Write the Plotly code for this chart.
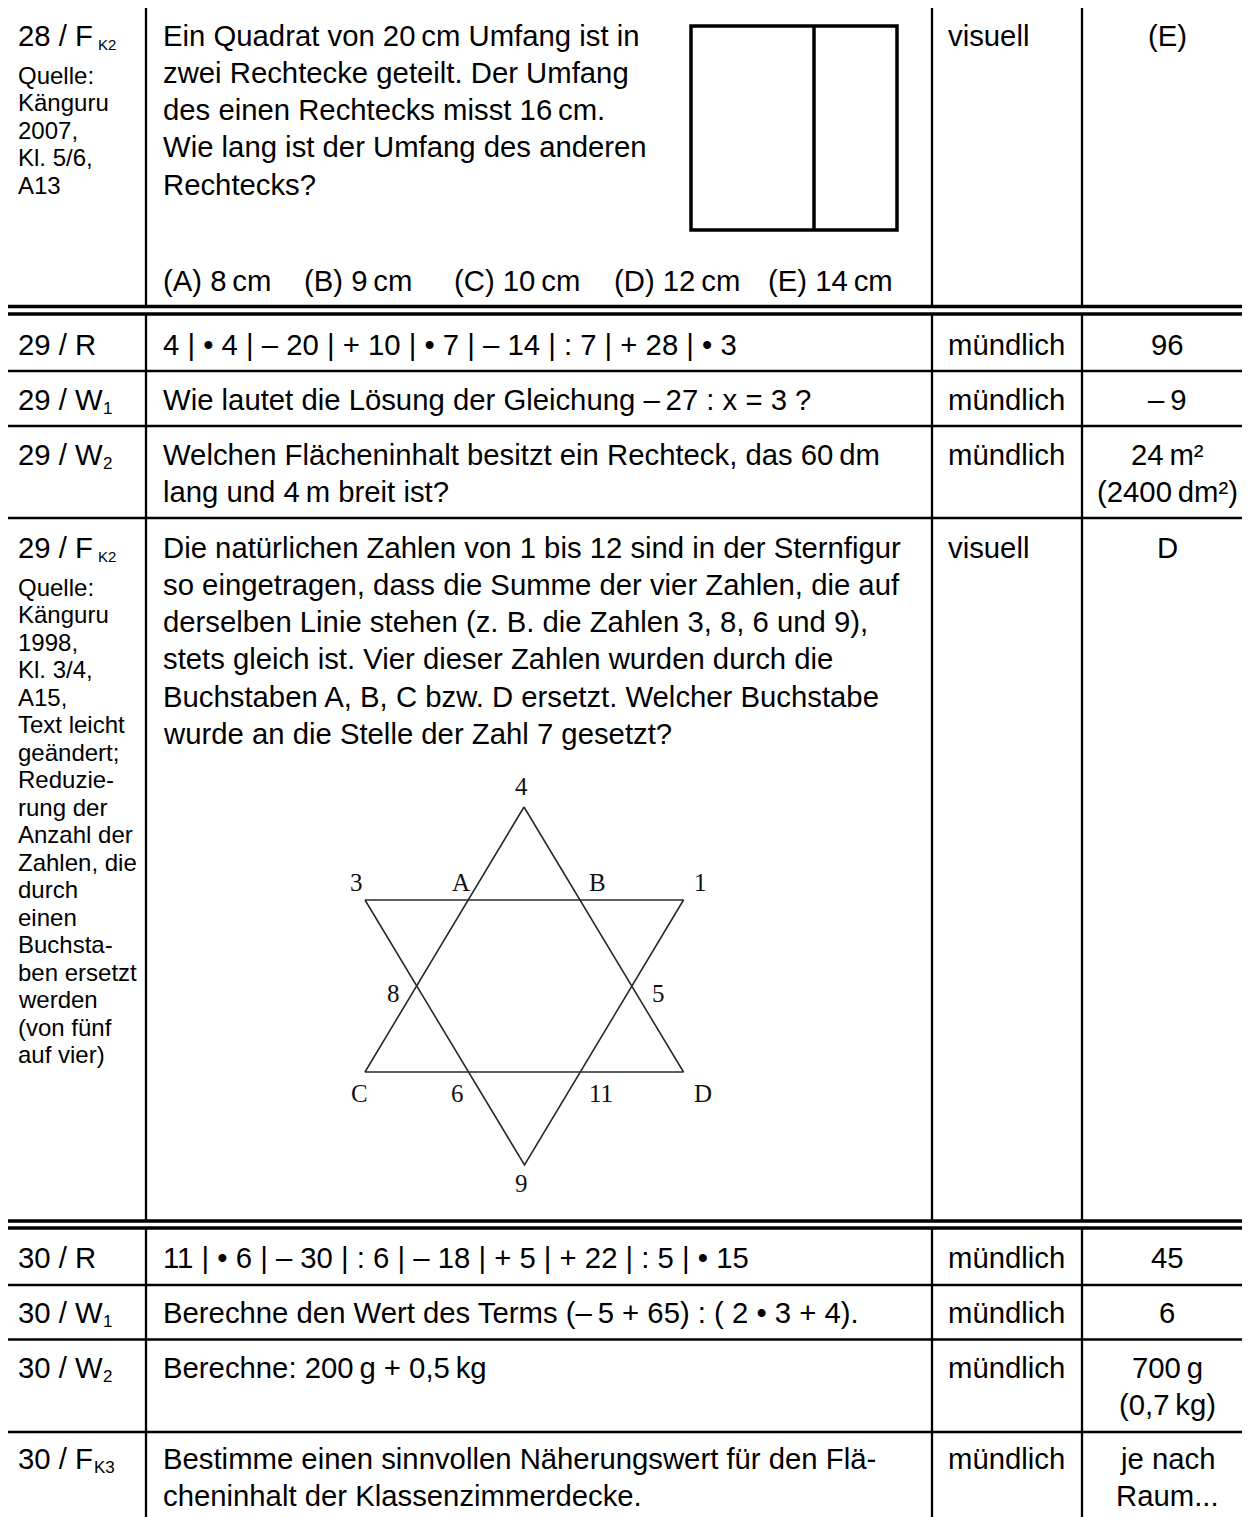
import plotly.graph_objects as go

SANS = "Liberation Sans, Arial, sans-serif"
SERIF = "Liberation Serif, DejaVu Serif, serif"

### TABLE CONTENT ###
row_ids = ["28 / F", "29 / R", "29 / W", "29 / W", "29 / F",
           "30 / R", "30 / W", "30 / W", "30 / F"]
row_subs = ["K2", "", "1", "2", "K2", "", "1", "2", "K3"]

task_lines = [
    ["Ein Quadrat von 20\u2009cm Umfang ist in",
     "zwei Rechtecke geteilt. Der Umfang",
     "des einen Rechtecks misst 16\u2009cm.",
     "Wie lang ist der Umfang des anderen",
     "Rechtecks?"],
    ["4 | \u2022 4 | \u2013 20 | + 10 | \u2022 7 | \u2013 14 | : 7 | + 28 | \u2022 3"],
    ["Wie lautet die L\u00f6sung der Gleichung \u2013\u200927 : x = 3 ?"],
    ["Welchen Fl\u00e4cheninhalt besitzt ein Rechteck, das 60\u2009dm",
     "lang und 4\u2009m breit ist?"],
    ["Die nat\u00fcrlichen Zahlen von 1 bis 12 sind in der Sternfigur",
     "so eingetragen, dass die Summe der vier Zahlen, die auf",
     "derselben Linie stehen (z. B. die Zahlen 3, 8, 6 und 9),",
     "stets gleich ist. Vier dieser Zahlen wurden durch die",
     "Buchstaben A, B, C bzw. D ersetzt. Welcher Buchstabe",
     "wurde an die Stelle der Zahl 7 gesetzt?"],
    ["11 | \u2022 6 | \u2013 30 | : 6 | \u2013 18 | + 5 | + 22 | : 5 | \u2022 15"],
    ["Berechne den Wert des Terms (\u2013\u20095 + 65) : ( 2 \u2022 3 + 4)."],
    ["Berechne: 200\u2009g + 0,5\u2009kg"],
    ["Bestimme einen sinnvollen N\u00e4herungswert f\u00fcr den Fl\u00e4-",
     "cheninhalt der Klassenzimmerdecke."],
]

modes = ["visuell", "m\u00fcndlich", "m\u00fcndlich", "m\u00fcndlich", "visuell",
         "m\u00fcndlich", "m\u00fcndlich", "m\u00fcndlich", "m\u00fcndlich"]

answers = [["(E)"], ["96"], ["\u2013\u20099"], ["24\u2009m\u00b2", "(2400\u2009dm\u00b2)"], ["D"],
           ["45"], ["6"], ["700\u2009g", "(0,7\u2009kg)"], ["je nach", "Raum..."]]

sources = {
    0: ["Quelle:", "K\u00e4nguru", "2007,", "Kl. 5/6,", "A13"],
    4: ["Quelle:", "K\u00e4nguru", "1998,", "Kl. 3/4,", "A15,", "Text leicht",
        "ge\u00e4ndert;", "Reduzie-", "rung der", "Anzahl der", "Zahlen, die",
        "durch", "einen", "Buchsta-", "ben ersetzt", "werden", "(von f\u00fcnf",
        "auf vier)"],
}

choices = ["(A) 8\u2009cm", "(B) 9\u2009cm", "(C) 10\u2009cm", "(D) 12\u2009cm", "(E) 14\u2009cm"]

### STAR FIGURE ###
star_up_x = [524, 683.5, 365, 524]
star_up_y = [807, 1072, 1072, 807]
star_down_x = [365, 683.5, 524.5, 365]
star_down_y = [900, 900, 1165, 900]
star_labels = ["4", "3", "A", "B", "1", "8", "5", "C", "6", "11", "D", "9"]
star_label_x = [521, 356, 461, 597, 700, 393, 658, 359, 457, 601, 703, 521]
star_label_y = [786, 882, 882, 882, 882, 993, 993, 1093, 1093, 1093, 1093, 1183]

### LAYOUT GRID (pixels) ###
W, H = 1250, 1517
OFF = 8  # page body margin, ranges are shifted so page pixels match
col_lines = [146, 932, 1082]
x_task, x_mode, x_answer, x_id = 161, 946, 1167, 16
row_first_y = [35, 344, 399, 454, 547, 1257, 1312, 1367, 1458]
single_rules = [371, 426, 518, 1285, 1339.5, 1432]
double_rules = [(306.5, 314), (1221, 1228)]
line_gap, small_gap = 37.3, 27.5
main_size, small_size = 29.3, 24
# subscript placement: (x position, size)
sub_style = {"K2": (96, 15), "K3": (92, 17), "1": (101, 17), "2": (101, 17)}

fig = go.Figure()
annotations = []


def add_text(x, y, text, size=main_size, anchor="left", family=SANS, color="black"):
    annotations.append(dict(x=x, y=y, text=text, showarrow=False, xanchor=anchor,
                            yanchor="middle", font=dict(family=family, size=size, color=color)))


for i, rid in enumerate(row_ids):
    y0 = row_first_y[i]
    add_text(x_id, y0, rid)
    if row_subs[i]:
        sx, ssize = sub_style[row_subs[i]]
        add_text(sx, y0 + 9, row_subs[i], size=ssize)
    for k, line in enumerate(task_lines[i]):
        add_text(x_task, y0 + k * line_gap, line)
    add_text(x_mode, y0, modes[i])
    for k, line in enumerate(answers[i]):
        add_text(x_answer, y0 + k * line_gap, line, anchor="center")
    if i in sources:
        for k, line in enumerate(sources[i]):
            add_text(x_id, y0 + 40 + k * small_gap, line, size=small_size)

for x, c in zip([161, 302, 452, 612, 766], choices):
    add_text(x, 280, c)

# star
for xs, ys in [(star_up_x, star_up_y), (star_down_x, star_down_y)]:
    fig.add_trace(go.Scatter(x=xs, y=ys, mode="lines", line=dict(color="#2a2a2a", width=1.6),
                             hoverinfo="skip", showlegend=False))
for lx, ly, lab in zip(star_label_x, star_label_y, star_labels):
    add_text(lx, ly, lab, size=25, anchor="center", family=SERIF, color="#111")

# square split into two rectangles
shapes = [
    dict(type="rect", x0=691, x1=897, y0=26, y1=230, line=dict(color="black", width=3.5)),
    dict(type="line", x0=814, x1=814, y0=26, y1=230, line=dict(color="black", width=3.5)),
]
for y in single_rules:
    shapes.append(dict(type="line", x0=8, x1=W, y0=y, y1=y, line=dict(color="black", width=2.3)))
for pair in double_rules:
    for y in pair:
        shapes.append(dict(type="line", x0=8, x1=W, y0=y, y1=y, line=dict(color="black", width=3.5)))
sections = [(7, 306.5), (314, 1221), (1228, H + OFF)]
for x in col_lines:
    for a, b in sections:
        shapes.append(dict(type="line", x0=x, x1=x, y0=a, y1=b, line=dict(color="black", width=2.3)))

fig.update_layout(
    width=W - OFF, height=H,
    margin=dict(l=0, r=0, t=0, b=0),
    paper_bgcolor="white", plot_bgcolor="white",
    xaxis=dict(range=[OFF, W], visible=False, fixedrange=True),
    yaxis=dict(range=[H + OFF, OFF], visible=False, fixedrange=True),
    annotations=annotations, shapes=shapes,
)

fig.write_html("out.html")
